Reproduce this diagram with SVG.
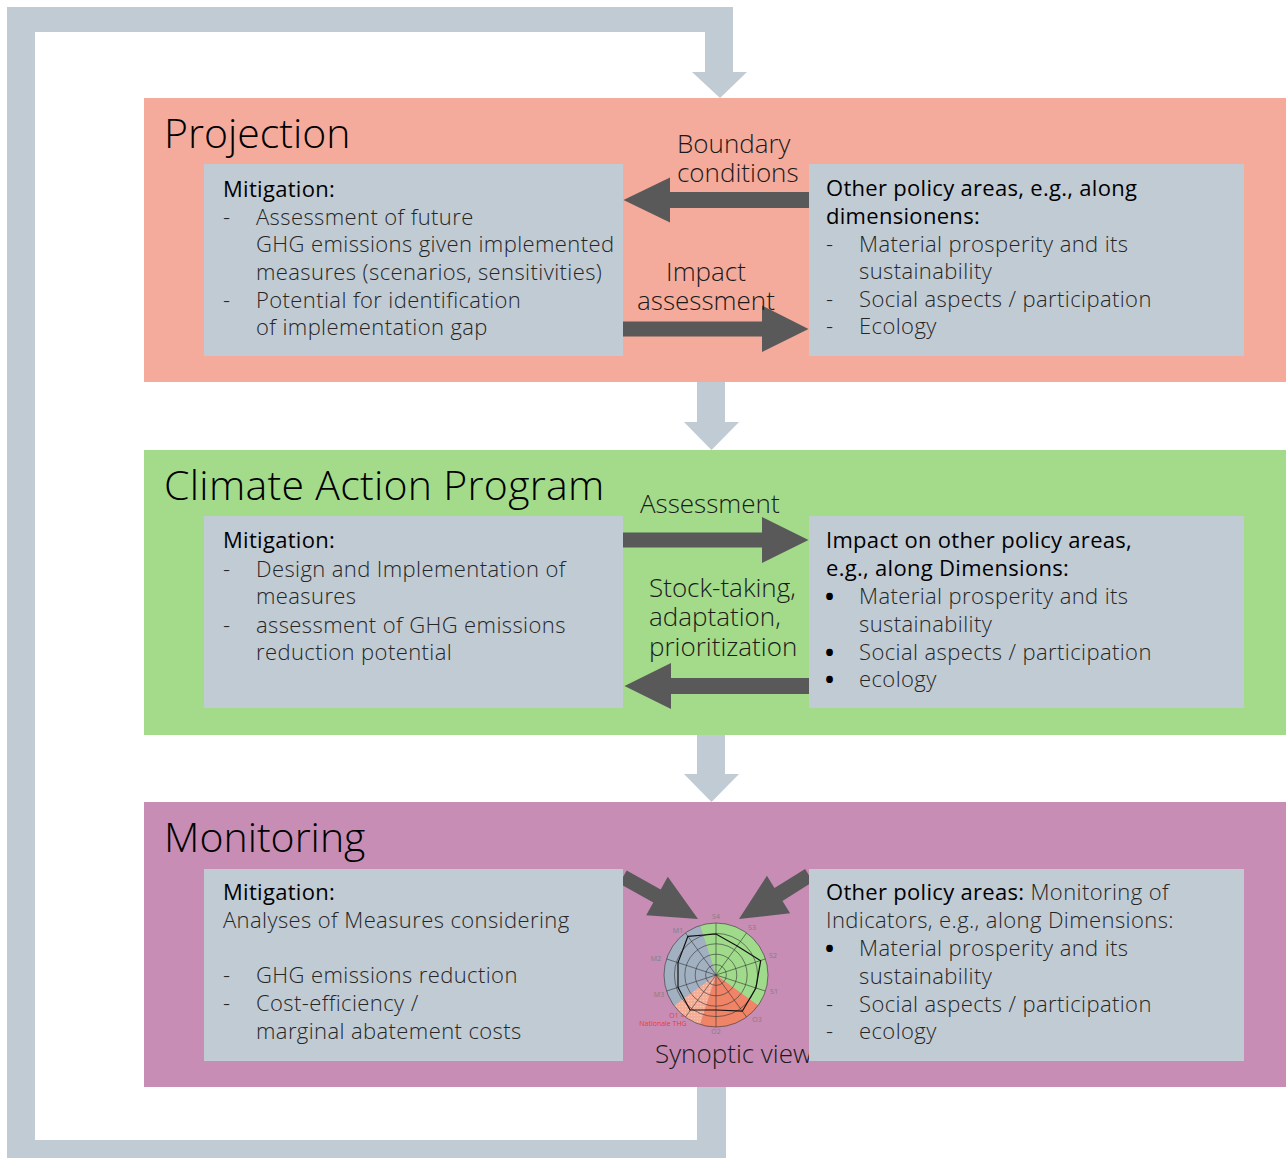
<svg xmlns="http://www.w3.org/2000/svg" width="1286" height="1158" viewBox="0 0 1286 1158">
<defs>
<style>
.title{font-family:"Open Sans","DejaVu Sans",sans-serif;font-weight:300;font-size:41px;fill:#000}
.hd{font-family:"Open Sans","DejaVu Sans",sans-serif;font-weight:400;font-size:22px;letter-spacing:0.3px;fill:#000}
.bd{font-family:"Open Sans","DejaVu Sans",sans-serif;font-weight:300;font-size:22px;letter-spacing:0.4px;fill:#262626}
.bul{font-family:"Open Sans","DejaVu Sans",sans-serif;font-weight:700;font-size:24px;fill:#000}
.lbl{font-family:"Open Sans","DejaVu Sans",sans-serif;font-weight:300;font-size:26px;fill:#1a1a1a}
.inner{fill:#C1CBD4}
.loop{fill:#C1CBD4}
.dark{fill:#595959}
.tiny{font-family:"Open Sans","DejaVu Sans",sans-serif;font-size:7px;fill:#7f7f7f;text-anchor:middle}
.ring{fill:none;stroke:#333;stroke-width:0.6}
</style>
<pattern id="dots" width="3" height="3" patternUnits="userSpaceOnUse">
<rect width="3" height="3" fill="#F5AD96"/>
<circle cx="1.5" cy="1.5" r="0.6" fill="#FAD0C0"/>
</pattern>
</defs>

<!-- section backgrounds -->
<g id="projection-bg"><rect x="144" y="98" width="1142" height="284" fill="#F4AB9C"/></g>
<g id="cap-bg"><rect x="144" y="450" width="1142" height="285" fill="#A3DB8B"/></g>
<g id="monitoring-bg"><rect x="144" y="802" width="1142" height="285" fill="#C78DB4"/></g>

<!-- connectors -->
<g id="connectors">
<path class="loop" d="M7,7 L733,7 L733,72 L747,72 L720,98 L692,72 L705,72 L705,32 L35,32 L35,1140 L697,1140 L697,1087 L726,1087 L726,1158 L7,1158 Z"/>
<path class="loop" d="M697,382 L725,382 L725,422 L739,422 L711.5,450 L684,422 L697,422 Z"/>
<path class="loop" d="M697,735 L725,735 L725,774 L739,774 L711.5,802 L684,774 L697,774 Z"/>
<path class="dark" d="M809,192 L670,192 L670,177.5 L623.5,200 L670,222.5 L670,208 L809,208 Z"/>
<path class="dark" d="M623,321.5 L762,321.5 L762,305.5 L808.5,329 L762,352 L762,336.5 L623,336.5 Z"/>
<path class="dark" d="M623,532.5 L762,532.5 L762,517 L808.5,540 L762,563 L762,547.5 L623,547.5 Z"/>
<path class="dark" d="M809,678 L671,678 L671,663 L624.5,686 L671,709 L671,694 L809,694 Z"/>
<path class="dark" d="M619.3,883.4 L626.7,870.4 L660.7,889.5 L667.8,876.8 L698,919 L646.2,915.2 L653.3,902.5 Z"/>
<path class="dark" d="M812.9,881.8 L805.1,869 L774.5,888.1 L766.9,875.8 L739,919 L790.1,913.2 L782.5,900.9 Z"/>
</g>

<!-- titles and arrow labels -->
<g id="projection-title"><text class="title" x="164" y="148">Projection</text></g>
<g id="cap-title"><text class="title" x="164" y="500" letter-spacing="0.3">Climate Action Program</text></g>
<g id="monitoring-title"><text class="title" x="164" y="852">Monitoring</text></g>

<g id="label-boundary"><text class="lbl" x="677" y="153">Boundary</text><text class="lbl" x="677" y="182">conditions</text></g>
<g id="label-impact"><text class="lbl" x="706" y="281" text-anchor="middle">Impact</text><text class="lbl" x="706" y="310" text-anchor="middle">assessment</text></g>
<g id="label-assessment"><text class="lbl" x="640" y="513">Assessment</text></g>
<g id="label-stock"><text class="lbl" x="649" y="597">Stock-taking,</text><text class="lbl" x="649" y="626">adaptation,</text><text class="lbl" x="649" y="656">prioritization</text></g>

<!-- synoptic chart -->
<g id="synoptic-view">
<path d="M716,975 L699.93,925.55 A52,52 0 0 1 758.07,1005.57 Z" fill="#9FDB8A"/>
<path d="M716,975 L758.07,1005.57 A52,52 0 0 1 699.93,1024.45 Z" fill="#F08466"/>
<path d="M716,975 L699.93,1024.45 A52,52 0 0 1 673.93,1005.57 Z" fill="url(#dots)"/>
<path d="M716,975 L673.93,1005.57 A52,52 0 0 1 699.93,925.55 Z" fill="#A2B1C2"/>
<circle class="ring" cx="716" cy="975" r="10.4"/>
<circle class="ring" cx="716" cy="975" r="20.8"/>
<circle class="ring" cx="716" cy="975" r="31.2"/>
<circle class="ring" cx="716" cy="975" r="41.6"/>
<circle class="ring" cx="716" cy="975" r="52"/>
<path class="ring" d="M716,975 L716,923 M716,975 L746.57,932.93 M716,975 L765.45,958.93 M716,975 L765.45,991.07 M716,975 L746.57,1017.07 M716,975 L716,1027 M716,975 L685.43,1017.07 M716,975 L666.55,991.07 M716,975 L666.55,958.93 M716,975 L685.43,932.93"/>
<polygon points="687.9,936.3 716,934 737.2,945.9 760.7,960.7 755.9,988 742.3,1011.2 716,1010 690,1010 678,987.4 678,962.6" fill="none" stroke="#111" stroke-width="1.2"/>
<text class="tiny" x="716" y="919">S4</text>
<text class="tiny" x="752" y="930">S3</text>
<text class="tiny" x="773" y="958">S2</text>
<text class="tiny" x="774" y="994">S1</text>
<text class="tiny" x="757" y="1022">O3</text>
<text class="tiny" x="716" y="1034">O2</text>
<text class="tiny" x="677" y="1018" style="fill:#E8402A">O1 =</text>
<text class="tiny" x="663" y="1026" style="fill:#E8402A">Nationale THG</text>
<text class="tiny" x="659" y="997">M3</text>
<text class="tiny" x="656" y="961">M2</text>
<text class="tiny" x="678" y="933">M1</text>
<text class="lbl" x="655" y="1063">Synoptic view</text>
</g>

<!-- Projection nodes -->
<g id="projection-mitigation">
<rect class="inner" x="204" y="164" width="419" height="192"/>
<text class="hd" x="223" y="197">Mitigation:</text>
<text class="bd" x="223" y="225">-</text><text class="bd" x="256" y="225">Assessment  of future</text>
<text class="bd" x="256" y="252">GHG emissions  given implemented</text>
<text class="bd" x="256" y="280">measures (scenarios,  sensitivities)</text>
<text class="bd" x="223" y="308">-</text><text class="bd" x="256" y="308">Potential for identification</text>
<text class="bd" x="256" y="335">of implementation  gap</text>
</g>
<g id="projection-other">
<rect class="inner" x="809" y="164" width="435" height="192"/>
<text class="hd" x="826" y="196">Other policy areas, e.g., along</text>
<text class="hd" x="826" y="224">dimensionens:</text>
<text class="bd" x="826" y="252">-</text><text class="bd" x="859" y="252">Material  prosperity  and its</text>
<text class="bd" x="859" y="279">sustainability</text>
<text class="bd" x="826" y="307">-</text><text class="bd" x="859" y="307">Social aspects  /  participation</text>
<text class="bd" x="826" y="334">-</text><text class="bd" x="859" y="334">Ecology</text>
</g>

<!-- CAP nodes -->
<g id="cap-mitigation">
<rect class="inner" x="204" y="516" width="419" height="192"/>
<text class="hd" x="223" y="548">Mitigation:</text>
<text class="bd" x="223" y="577">-</text><text class="bd" x="256" y="577">Design and Implementation  of</text>
<text class="bd" x="256" y="604">measures</text>
<text class="bd" x="223" y="633">-</text><text class="bd" x="256" y="633">assessment  of GHG  emissions</text>
<text class="bd" x="256" y="660">reduction potential</text>
</g>
<g id="cap-other">
<rect class="inner" x="809" y="516" width="435" height="192"/>
<text class="hd" x="826" y="548">Impact on other policy areas,</text>
<text class="hd" x="826" y="576">e.g., along Dimensions:</text>
<text class="bul" x="825" y="605">•</text><text class="bd" x="859" y="604">Material  prosperity  and its</text>
<text class="bd" x="859" y="632">sustainability</text>
<text class="bul" x="825" y="661">•</text><text class="bd" x="859" y="660">Social aspects  /  participation</text>
<text class="bul" x="825" y="688">•</text><text class="bd" x="859" y="687">ecology</text>
</g>

<!-- Monitoring nodes -->
<g id="monitoring-mitigation">
<rect class="inner" x="204" y="869" width="419" height="192"/>
<text class="hd" x="223" y="900">Mitigation:</text>
<text class="bd" x="223" y="928">Analyses of Measures  considering</text>
<text class="bd" x="223" y="983">-</text><text class="bd" x="256" y="983">GHG  emissions  reduction</text>
<text class="bd" x="223" y="1011">-</text><text class="bd" x="256" y="1011">Cost-efficiency  /</text>
<text class="bd" x="256" y="1039">marginal  abatement  costs</text>
</g>
<g id="monitoring-other">
<rect class="inner" x="809" y="869" width="435" height="192"/>
<text class="bd" x="826" y="900"><tspan class="hd">Other policy areas:</tspan> Monitoring of</text>
<text class="bd" x="826" y="928">Indicators, e.g., along  Dimensions:</text>
<text class="bul" x="825" y="957">•</text><text class="bd" x="859" y="956">Material  prosperity  and its</text>
<text class="bd" x="859" y="984">sustainability</text>
<text class="bd" x="826" y="1012">-</text><text class="bd" x="859" y="1012">Social aspects  /  participation</text>
<text class="bd" x="826" y="1039">-</text><text class="bd" x="859" y="1039">ecology</text>
</g>
</svg>
